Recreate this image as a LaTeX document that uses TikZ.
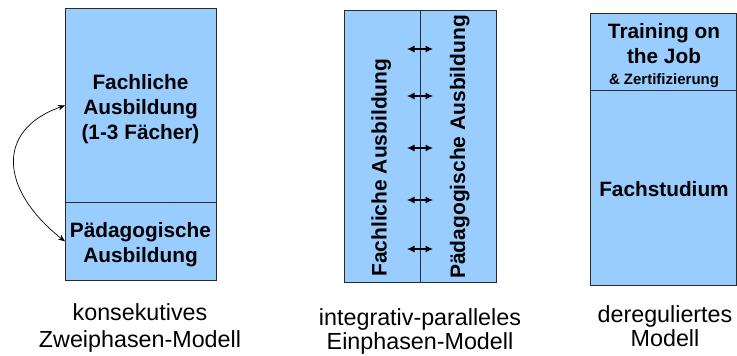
\documentclass[tikz,border=0pt]{standalone}
\usepackage{fontspec}
\setmainfont{Liberation Sans}
\usetikzlibrary{arrows.meta}
\definecolor{boxblue}{HTML}{99CCFF}
\definecolor{edge}{HTML}{2A2A2A}
\newcommand\stacklines[2]{\vtop{\baselineskip=#1\lineskiplimit=-100pt\lineskip=0pt\halign{\hfil##\hfil\cr#2\crcr}}}
\begin{document}
\begin{tikzpicture}[x=1pt,y=-1pt,
  blk/.style={draw=edge,fill=boxblue,line width=0.9pt,anchor=north west,inner sep=0pt},
  btxt/.style={anchor=base,inner sep=0pt,font=\fontsize{20.8}{25}\selectfont\bfseries},
  vtxt/.style={anchor=base west,inner sep=0pt,rotate=90,font=\fontsize{21}{25}\selectfont\bfseries},
  captxt/.style={anchor=base,inner sep=0pt,font=\fontsize{23.3}{28}\selectfont},
  conn/.style={{Stealth[length=7pt,width=5.5pt]}-{Stealth[length=7pt,width=5.5pt]},line width=0.7pt},
  pconn/.style={{Latex[length=7.5pt,width=7pt]}-{Latex[length=7.5pt,width=7pt]},line width=1.1pt}]
\useasboundingbox (0,0) rectangle (737,356);
% left model
\node[blk,minimum width=151pt,minimum height=194pt] (fach) at (65,8) {};
\node[blk,minimum width=151pt,minimum height=78pt] (paed) at (65,202) {};
\node[btxt] (fachT) at (140.5,89) {\stacklines{25pt}{Fachliche\cr Ausbildung\cr (1-3 Fächer)}};
\node[btxt] (paedT) at (140.5,237) {\stacklines{25pt}{Pädagogische\cr Ausbildung}};
\draw[conn] (fach.west) .. controls (-5,130) and (0,190) .. (paed.west);
\node[captxt] (c1) at (140,320) {\stacklines{27pt}{konsekutives\cr Zweiphasen-Modell}};
% middle model
\node[blk,minimum width=76pt,minimum height=272pt] (mf) at (344,10) {};
\node[blk,minimum width=76pt,minimum height=272pt] (mp) at (420,10) {};
\node[vtxt] (tf) at (386.5,277) {Fachliche Ausbildung};
\node[vtxt] (tp) at (465,279) {Pädagogische Ausbildung};
\foreach \i/\yy in {1/49,2/96,3/148,4/200,5/249}{
  \coordinate (l\i) at (407,\yy);
  \coordinate (r\i) at (433,\yy);
  \draw[pconn] (l\i) -- (r\i);
}
\node[captxt] (c2) at (420,325) {\stacklines{24pt}{integrativ-paralleles\cr Einphasen-Modell}};
% right model
\node[blk,minimum width=146pt,minimum height=77pt] (tj) at (590,13) {};
\node[blk,minimum width=146pt,minimum height=195pt] (fs) at (590,90) {};
\node[btxt] (tjT) at (664,38) {\stacklines{25pt}{Training on\cr the Job}};
\node[btxt,font=\fontsize{15}{18}\selectfont\bfseries] (tjZ) at (664,84) {\& Zertifizierung};
\node[btxt] (fsT) at (664,196) {Fachstudium};
\node[captxt] (c3) at (665,322) {\stacklines{24pt}{dereguliertes\cr Modell}};
\end{tikzpicture}
\end{document}
